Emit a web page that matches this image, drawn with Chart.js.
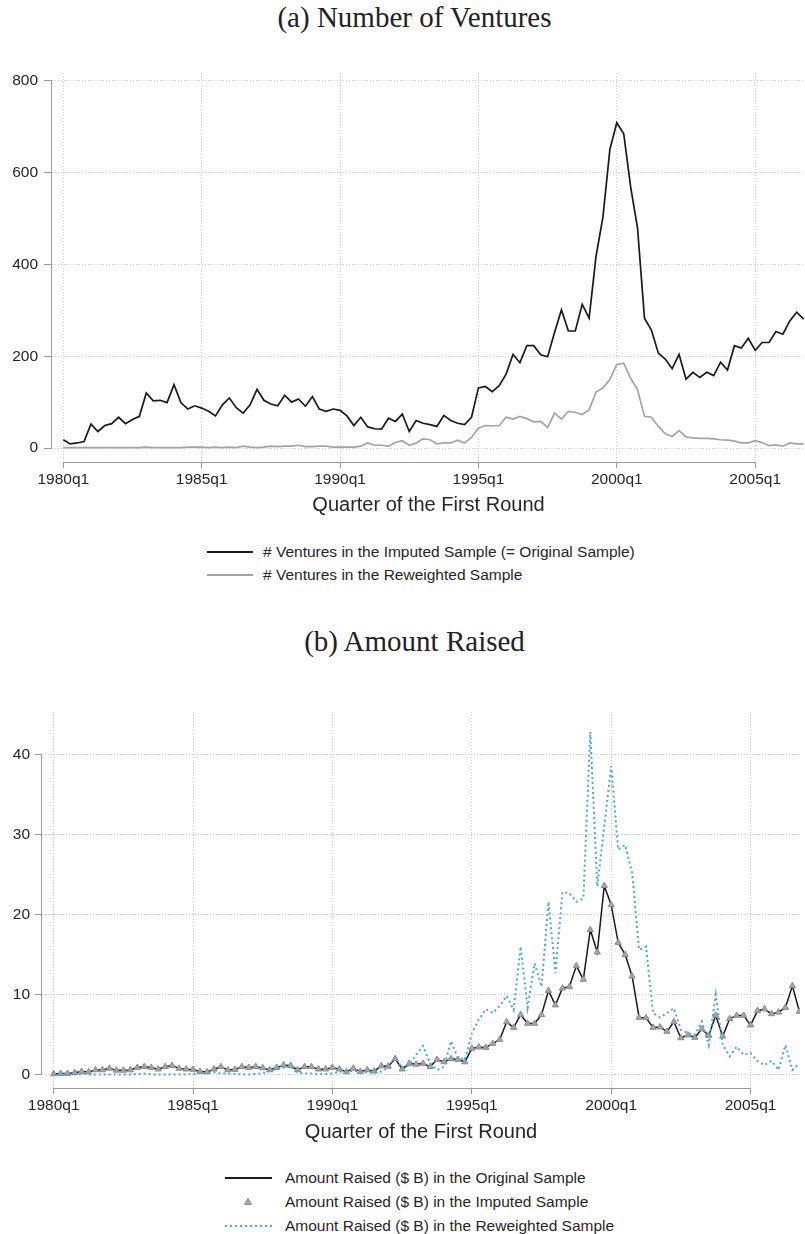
<!DOCTYPE html>
<html><head><meta charset="utf-8">
<script src="https://cdn.jsdelivr.net/npm/chart.js@4.4.1/dist/chart.umd.min.js"></script>
<style>
html,body{margin:0;padding:0;background:#fff;}
body{width:805px;height:1234px;position:relative;overflow:hidden;font-family:"Liberation Sans",Arial,sans-serif;color:#262626;}
canvas{position:absolute;left:0;}
.title{position:absolute;left:0;width:829px;text-align:center;font-family:"Liberation Serif","Times New Roman",serif;font-size:29px;line-height:34px;color:#222;white-space:nowrap;}
.lg{position:absolute;font-size:15.5px;line-height:18px;white-space:nowrap;color:#262626;}
.ln{position:absolute;height:2px;}
</style>
</head><body>
<div class="title" style="top:0px;">(a) Number of Ventures</div>
<canvas id="cA" width="805" height="530" style="top:0px;"></canvas>
<div class="ln" style="left:207px;width:46px;top:551px;background:#1a1a1a;"></div>
<div class="lg" style="left:263px;top:543px;"># Ventures in the Imputed Sample (= Original Sample)</div>
<div class="ln" style="left:207px;width:46px;top:574px;background:#a3a3a3;"></div>
<div class="lg" style="left:263px;top:566px;"># Ventures in the Reweighted Sample</div>

<div class="title" style="top:624px;">(b) Amount Raised</div>
<canvas id="cB" width="805" height="550" style="top:600px;"></canvas>
<div class="ln" style="left:225px;width:47px;top:1177px;background:#1a1a1a;"></div>
<div class="lg" style="left:285px;top:1169px;">Amount Raised ($ B) in the Original Sample</div>
<svg style="position:absolute;left:244px;top:1198px;" width="8" height="7"><polygon points="4,0.5 7.5,6.5 0.5,6.5" fill="#a6a6a6" stroke="#8a8a8a" stroke-width="1"/></svg>
<div class="lg" style="left:285px;top:1193px;">Amount Raised ($ B) in the Imputed Sample</div>
<div class="ln" style="left:225px;width:47px;top:1225px;background:repeating-linear-gradient(to right,#45a7e0 0px,#45a7e0 2px,transparent 2px,transparent 5px);"></div>
<div class="lg" style="left:285px;top:1217px;">Amount Raised ($ B) in the Reweighted Sample</div>

<script>
// ---------- data ----------
const startYear = 1980, endYear = 2006;
const quarters = [];
for (let yr = startYear; yr <= endYear; yr++) for (let q = 1; q <= 4; q++) quarters.push(yr + 'q' + q);

const xTickLabels = ['1980q1', '1985q1', '1990q1', '1995q1', '2000q1', '2005q1'];
const venturesTicks = [0, 200, 400, 600, 800];
const amountTicks = [0, 10, 20, 30, 40];

const venturesImputed = [
  18, 9, 11, 14, 52, 36, 49, 53, 67, 53,
  62, 69, 120, 103, 104, 99, 138, 99, 85, 92,
  87, 80, 70, 94, 109, 88, 76, 94, 128, 104,
  96, 92, 115, 100, 107, 91, 112, 85, 80, 85,
  82, 70, 49, 67, 46, 42, 41, 65, 58, 74,
  36, 60, 54, 51, 47, 71, 60, 54, 51, 67,
  131, 134, 123, 136, 161, 204, 186, 223, 223, 203,
  199, 252, 301, 255, 255, 313, 283, 418, 504, 651,
  709, 685, 569, 479, 283, 257, 207, 194, 173, 204,
  150, 165, 154, 165, 158, 187, 170, 223, 218, 239,
  213, 230, 230, 254, 248, 277, 296, 281
];
const venturesReweighted = [
  1, 1, 1, 1, 1, 1, 1, 1, 1, 1,
  1, 1, 2, 1, 1, 1, 1, 1, 2, 2,
  2, 1, 2, 1, 2, 1, 4, 2, 1, 2,
  4, 3, 4, 4, 6, 3, 3, 4, 4, 2,
  2, 2, 2, 4, 11, 6, 6, 4, 12, 16,
  6, 11, 20, 18, 9, 11, 11, 17, 11, 23,
  43, 49, 48, 49, 67, 63, 69, 64, 57, 58,
  45, 76, 63, 80, 78, 73, 83, 122, 131, 149,
  182, 185, 152, 127, 69, 67, 47, 31, 25, 38,
  24, 22, 21, 21, 20, 18, 17, 15, 11, 11,
  16, 12, 5, 7, 4, 11, 9, 9
];
const amountOriginal = [
  0.1, 0.15, 0.15, 0.25, 0.4, 0.35, 0.6, 0.6, 0.8, 0.55,
  0.55, 0.6, 0.9, 1.0, 0.9, 0.7, 1.0, 1.15, 0.8, 0.7,
  0.65, 0.4, 0.35, 0.7, 1.0, 0.6, 0.65, 1.0, 0.9, 1.0,
  0.85, 0.6, 0.9, 1.2, 1.15, 0.6, 1.0, 1.0, 0.7, 0.7,
  0.9, 0.7, 0.35, 0.8, 0.4, 0.6, 0.45, 1.1, 1.05, 2.0,
  0.7, 1.4, 1.3, 1.4, 1.0, 1.9, 1.6, 2.0, 1.9, 1.6,
  3.3, 3.45, 3.4, 3.9, 4.4, 6.6, 5.9, 7.5, 6.4, 6.4,
  7.5, 10.5, 8.7, 10.8, 11.0, 13.6, 11.9, 18.1, 15.3, 23.6,
  21.2, 16.5, 15.0, 12.3, 7.15, 7.1, 5.9, 5.95, 5.4, 6.6,
  4.6, 4.95, 4.65, 5.7, 4.9, 7.4, 4.8, 7.0, 7.4, 7.4,
  6.2, 8.0, 8.2, 7.6, 7.8, 8.4, 11.1, 7.9
];
const amountImputed = [
  0.1, 0.15, 0.15, 0.25, 0.4, 0.35, 0.6, 0.6, 0.8, 0.55,
  0.55, 0.6, 0.9, 1.0, 0.9, 0.7, 1.0, 1.15, 0.8, 0.7,
  0.65, 0.4, 0.35, 0.7, 1.0, 0.6, 0.65, 1.0, 0.9, 1.0,
  0.85, 0.6, 0.9, 1.2, 1.15, 0.6, 1.0, 1.0, 0.7, 0.7,
  0.9, 0.7, 0.35, 0.8, 0.4, 0.6, 0.45, 1.1, 1.05, 2.0,
  0.7, 1.4, 1.3, 1.4, 1.0, 1.9, 1.6, 2.0, 1.9, 1.6,
  3.3, 3.45, 3.4, 3.9, 4.4, 6.6, 5.9, 7.5, 6.4, 6.4,
  7.5, 10.5, 8.7, 10.8, 11.0, 13.6, 11.9, 18.1, 15.3, 23.6,
  21.2, 16.5, 15.0, 12.3, 7.15, 7.1, 5.9, 5.95, 5.4, 6.6,
  4.6, 4.95, 4.65, 5.7, 4.9, 7.4, 4.8, 7.0, 7.4, 7.4,
  6.2, 8.0, 8.2, 7.6, 7.8, 8.4, 11.1, 7.9
];
const amountReweighted = [
  0.05, 0.05, 0.05, 0.05, 0.1, 0.05, 0.05, 0.05, 0.05, 0.05,
  0.05, 0.05, 0.1, 0.15, 0.05, 0.05, 0.05, 0.05, 0.05, 0.05,
  0.1, 0.2, 0.15, 0.3, 0.15, 0.15, 0.1, 0.05, 0.05, 0.1,
  0.15, 0.5, 0.7, 0.9, 1.0, 0.3, 0.15, 0.15, 0.1, 0.1,
  0.15, 0.4, 0.4, 0.5, 0.4, 0.3, 0.25, 0.4, 0.9, 2.2,
  0.85, 1.2, 2.5, 3.6, 1.45, 0.6, 1.0, 4.2, 2.1, 1.9,
  5.2, 6.9, 8.2, 7.7, 8.6, 9.85, 8.1, 16.0, 8.4, 13.9,
  11.0, 21.6, 12.7, 22.8, 22.7, 21.6, 22.0, 42.8, 23.5, 31.0,
  38.5, 28.1, 28.7, 25.2, 15.6, 16.0, 7.7, 7.15, 7.7, 8.3,
  5.6, 5.2, 5.0, 6.65, 3.7, 10.0, 3.7, 2.3, 3.5, 2.5,
  2.7, 1.7, 1.2, 1.75, 0.6, 3.7, 0.6, 1.45
];

// ---------- helpers ----------
const FAMILY = '"Liberation Sans", Arial, sans-serif';
const TEXT = '#262626';
const toXY = arr => arr.map((v, i) => ({ x: i, y: v }));

const axisLines = {
  id: 'axisLines',
  afterDraw(chart, args, opts) {
    const { ctx, chartArea, scales: { x, y } } = chart;
    ctx.save();
    ctx.strokeStyle = '#9a9a9a';
    ctx.lineWidth = 1;
    ctx.beginPath();
    const yb = Math.round(chartArea.bottom) + 0.5;
    ctx.moveTo(x.getPixelForValue(opts.xFrom), yb);
    ctx.lineTo(x.getPixelForValue(opts.xTo), yb);
    const xl = Math.round(chartArea.left) - 0.5;
    ctx.moveTo(xl, y.getPixelForValue(opts.yFrom));
    ctx.lineTo(xl, y.getPixelForValue(opts.yTo));
    ctx.stroke();
    ctx.restore();
  }
};

function scalesFor(p) {
  return {
    x: {
      type: 'linear', min: p.xMin, max: p.xMax,
      afterBuildTicks: s => { s.ticks = xTickLabels.map(l => ({ value: quarters.indexOf(l) })); },
      afterFit: s => { s.height = p.xHeight; },
      ticks: { callback: v => quarters[v], font: { family: FAMILY, size: 15.5 }, color: TEXT, padding: p.xPad, maxRotation: 0, autoSkip: false },
      grid: { color: '#cdcdcd', lineWidth: 1, tickLength: 6, tickColor: '#9a9a9a', tickWidth: 1, tickBorderDash: [] },
      border: { display: false, dash: [1, 2] },
      title: { display: true, text: 'Quarter of the First Round', font: { family: FAMILY, size: 20 }, color: TEXT, padding: { top: 0, bottom: p.titlePad } }
    },
    y: {
      type: 'linear', min: p.yMin, max: p.yMax,
      afterBuildTicks: s => { s.ticks = p.yTicks.map(v => ({ value: v })); },
      afterFit: s => { s.width = p.yWidth; },
      ticks: { font: { family: FAMILY, size: 15.5 }, color: TEXT, padding: p.yPad },
      grid: { color: '#cdcdcd', lineWidth: 1, tickLength: p.yTick, tickColor: '#9a9a9a', tickWidth: 1, tickBorderDash: [] },
      border: { display: false, dash: [1, 2] }
    }
  };
}

const common = { responsive: false, animation: false, devicePixelRatio: 1, events: [] };

// ---------- panel (a) ----------
new Chart(document.getElementById('cA'), {
  type: 'line',
  data: {
    datasets: [
      { label: '# Ventures in the Imputed Sample (= Original Sample)', data: toXY(venturesImputed), borderColor: '#1a1a1a', borderWidth: 1.7, pointRadius: 0, tension: 0, order: 0 },
      { label: '# Ventures in the Reweighted Sample', data: toXY(venturesReweighted), borderColor: '#a3a3a3', borderWidth: 1.7, pointRadius: 0, tension: 0, order: 1 }
    ]
  },
  options: Object.assign({}, common, {
    layout: { padding: { top: 73, left: 0, right: 0, bottom: 0 } },
    plugins: { legend: { display: false }, tooltip: { enabled: false }, axisLines: { xFrom: 0, xTo: 100, yFrom: 0, yTo: 800 } },
    scales: scalesFor({ xMin: -1.63, xMax: 107.2, xHeight: 68, xPad: 2, titlePad: 13, yMin: -30.5, yMax: 817.4, yTicks: venturesTicks, yWidth: 52, yPad: 6, yTick: 8 })
  }),
  plugins: [axisLines]
});

// ---------- panel (b) ----------
new Chart(document.getElementById('cB'), {
  type: 'line',
  data: {
    datasets: [
      { label: 'Amount Raised ($ B) in the Original Sample', data: toXY(amountOriginal), borderColor: '#1a1a1a', borderWidth: 1.5, pointRadius: 0, tension: 0, order: 2 },
      { label: 'Amount Raised ($ B) in the Imputed Sample', data: toXY(amountImputed), showLine: false, pointStyle: 'triangle', pointRadius: 3.6, pointBackgroundColor: '#a6a6a6', pointBorderColor: '#8a8a8a', pointBorderWidth: 1, order: 1 },
      { label: 'Amount Raised ($ B) in the Reweighted Sample', data: toXY(amountReweighted), borderColor: '#45a7e0', borderWidth: 2, borderDash: [2, 3], pointRadius: 0, tension: 0, order: 0 }
    ]
  },
  options: Object.assign({}, common, {
    layout: { padding: { top: 112, left: 0, right: 0, bottom: 0 } },
    plugins: { legend: { display: false }, tooltip: { enabled: false }, axisLines: { xFrom: 0, xTo: 100, yFrom: 0, yTo: 40 } },
    scales: scalesFor({ xMin: -1.68, xMax: 107.09, xHeight: 62, xPad: 2.7, titlePad: 6, yMin: -1.65, yMax: 45.28, yTicks: amountTicks, yWidth: 42, yPad: 5, yTick: 7 })
  }),
  plugins: [axisLines]
});
</script>
</body></html>
